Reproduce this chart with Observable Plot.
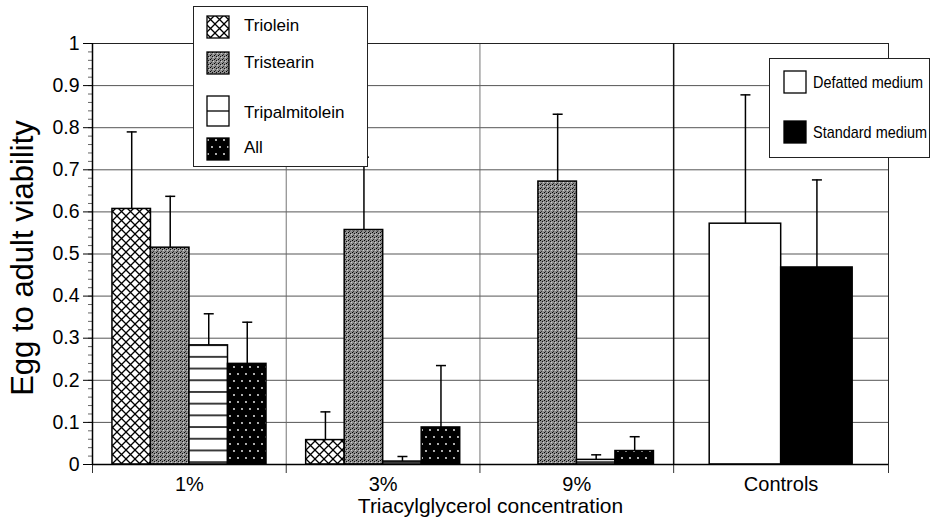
<!DOCTYPE html>
<html><head><meta charset="utf-8">
<script src="https://cdn.jsdelivr.net/npm/d3@7"></script>
<script src="https://cdn.jsdelivr.net/npm/@observablehq/plot@0.6"></script>
<style>
html,body{margin:0;padding:0;background:#fff;}
#wrap{position:relative;width:931px;height:523px;overflow:hidden;font-family:"Liberation Sans",Arial,sans-serif;}
#wrap svg.plot{position:absolute;left:0;top:0;}
.legend{position:absolute;background:#fff;border:1px solid #222;box-sizing:border-box;}
.item{position:absolute;white-space:nowrap;color:#000;}
.item svg{position:absolute;left:0;}
.item span{position:absolute;line-height:1;}
</style></head><body>
<svg width="0" height="0" style="position:absolute">
<defs>
<pattern id="p-triolein" patternUnits="userSpaceOnUse" width="9" height="9">
<rect width="9" height="9" fill="white"/>
<path d="M0,0L9,9M9,0L0,9" stroke="black" stroke-width="1.3" fill="none"/>
</pattern>
<pattern id="p-tristearin" patternUnits="userSpaceOnUse" width="4" height="4">
<rect width="4" height="4" fill="#8e8e8e"/>
<rect x="0" y="0" width="1" height="1" fill="#000"/>
<rect x="2" y="1" width="1" height="1" fill="#111"/>
<rect x="1" y="3" width="1" height="1" fill="#333"/>
<rect x="3" y="2" width="1" height="1" fill="#cfcfcf"/>
</pattern>
<pattern id="p-tripalm" patternUnits="userSpaceOnUse" width="10" height="11.7">
<rect width="10" height="11.7" fill="white"/>
<path d="M0,5.85H10" stroke="black" stroke-width="1.5"/>
</pattern>
<pattern id="p-all" patternUnits="userSpaceOnUse" width="8" height="14">
<rect width="8" height="14" fill="black"/>
<circle cx="2" cy="3" r="0.9" fill="white"/>
<circle cx="6" cy="10" r="0.9" fill="white"/>
</pattern>
</defs>
</svg>
<div id="wrap"></div>
<script>
// ---- data ----
const groups = ["1%", "3%", "9%", "Controls"];
const lipids = ["Triolein", "Tristearin", "Tripalmitolein", "All"];
const trioleinMean = [0.607, 0.058, 0.0];
const trioleinUpper = [0.790, 0.125, 0.0];
const tristearinMean = [0.515, 0.557, 0.672];
const tristearinUpper = [0.637, 0.730, 0.832];
const tripalmitoleinMean = [0.283, 0.007, 0.011];
const tripalmitoleinUpper = [0.358, 0.019, 0.023];
const allMean = [0.239, 0.088, 0.032];
const allUpper = [0.338, 0.235, 0.066];
const media = ["Defatted medium", "Standard medium"];
const controlMean = [0.572, 0.468];
const controlUpper = [0.878, 0.676];
const yTicks = [0, 0.1, 0.2, 0.3, 0.4, 0.5, 0.6, 0.7, 0.8, 0.9, 1];
const xTitle = "Triacylglycerol concentration";
const yTitle = "Egg to adult viability";

// ---- layout (group units) ----
const groupWidths = [1, 1, 1, 1.109];
const groupStarts = [0, 1, 2, 3];
const xEnd = 4.109;
const barPad = 0.103, barW = 0.1988;
const ctrlPad = 0.186, ctrlW = 0.369;

const lipidFills = ["url(#p-triolein)", "url(#p-tristearin)", "url(#p-tripalm)", "url(#p-all)"];
const mediaFills = ["white", "black"];
const means = [trioleinMean, tristearinMean, tripalmitoleinMean, allMean];
const uppers = [trioleinUpper, tristearinUpper, tripalmitoleinUpper, allUpper];

const rows = [];
for (let g = 0; g < 3; g++) {
  for (let j = 0; j < lipids.length; j++) {
    const x1 = groupStarts[g] + barPad + j * barW;
    rows.push({group: groups[g], series: lipids[j], value: means[j][g], upper: uppers[j][g],
      x1, x2: x1 + barW, xc: x1 + barW / 2, fill: lipidFills[j]});
  }
}
for (let j = 0; j < media.length; j++) {
  const x1 = groupStarts[3] + ctrlPad + j * ctrlW;
  rows.push({group: groups[3], series: media[j], value: controlMean[j], upper: controlUpper[j],
    x1, x2: x1 + ctrlW, xc: x1 + ctrlW / 2, fill: mediaFills[j]});
}
const errRows = rows.filter(d => d.upper > d.value);
const groupRows = groups.map((g, i) => ({label: g, x: groupStarts[i] + groupWidths[i] / 2}));
const boundaries = [0, 1, 2, 3, xEnd];
const minor = d3.range(0, 1.0001, 0.02);

const cap = {draw(ctx, size) { const w = Math.sqrt(size / Math.PI); ctx.moveTo(-w, 0); ctx.lineTo(w, 0); }};

const chart = Plot.plot({
  width: 931, height: 523,
  marginLeft: 92, marginRight: 43, marginTop: 43, marginBottom: 59,
  style: {fontFamily: "'Liberation Sans', Arial, sans-serif", background: "white", color: "black", overflow: "visible"},
  x: {domain: [0, xEnd], axis: null},
  y: {domain: [0, 1], axis: null},
  color: {type: "identity"},
  marks: [
    Plot.gridY(yTicks, {stroke: "#444", strokeOpacity: 0.9, strokeWidth: 1}),
    Plot.gridX([1, 2], {stroke: "#666", strokeOpacity: 0.9, strokeWidth: 1}),
    Plot.axisY(minor, {tickSize: 4, tickFormat: () => "", stroke: "#666", label: null}),
    Plot.axisY(yTicks, {tickSize: 9, tickPadding: 4, fontSize: 19.5, tickFormat: d => String(d), label: null}),
    Plot.axisX(boundaries, {tickSize: 9, tickFormat: () => "", label: null, stroke: "#333"}),
    Plot.text(groupRows, {x: "x", text: "label", frameAnchor: "bottom", dy: 26, fontSize: 20}),
    Plot.frame({stroke: "#222", strokeWidth: 1}),
    Plot.ruleX([3], {stroke: "#111", strokeWidth: 1.5}),
    Plot.rect(rows, {x1: "x1", x2: "x2", y1: 0, y2: "value", fill: "fill", stroke: "black", strokeWidth: 1.5}),
    Plot.ruleX(errRows, {x: "xc", y1: "value", y2: "upper", stroke: "black", strokeWidth: 1.5}),
    Plot.dot(errRows, {x: "xc", y: "upper", symbol: cap, r: 5, fill: "none", stroke: "black", strokeWidth: 1.5}),
    Plot.ruleY([0], {stroke: "black", strokeWidth: 1.5}),
    Plot.ruleX([0], {stroke: "black", strokeWidth: 1.5}),
    Plot.text([xTitle], {text: d => d, frameAnchor: "bottom", dy: 48, fontSize: 21}),
    Plot.text([yTitle], {text: d => d, frameAnchor: "left", textAnchor: "middle", dx: -69, dy: 4, rotate: -90, fontSize: 31})
  ]
});
chart.classList.add("plot");
const wrap = document.getElementById("wrap");
wrap.appendChild(chart);

// ---- legends ----
function swatch(fill, w, h, midLine) {
  const ns = "http://www.w3.org/2000/svg";
  const s = document.createElementNS(ns, "svg");
  s.setAttribute("width", w + 2); s.setAttribute("height", h + 2);
  const r = document.createElementNS(ns, "rect");
  r.setAttribute("x", 1); r.setAttribute("y", 1); r.setAttribute("width", w); r.setAttribute("height", h);
  r.setAttribute("fill", midLine ? "white" : fill); r.setAttribute("stroke", "black"); r.setAttribute("stroke-width", 1.3);
  s.appendChild(r);
  if (midLine) {
    const l = document.createElementNS(ns, "line");
    l.setAttribute("x1", 1); l.setAttribute("x2", w + 1); l.setAttribute("y1", 1 + h / 2); l.setAttribute("y2", 1 + h / 2);
    l.setAttribute("stroke", "black"); l.setAttribute("stroke-width", 1.3);
    s.appendChild(l);
  }
  return s;
}
const leg1 = document.createElement("div");
leg1.className = "legend";
Object.assign(leg1.style, {left: "193px", top: "6px", width: "175px", height: "161px"});
const l1Swatch = [[8, 22], [44, 22], [88, 30], [130, 22]];
const l1Text = [18, 55, 105, 140];
lipids.forEach((name, i) => {
  const it = document.createElement("div");
  it.className = "item";
  it.style.left = "12px"; it.style.top = l1Swatch[i][0] + "px";
  it.appendChild(swatch(lipidFills[i], 22, l1Swatch[i][1], i === 2));
  const sp = document.createElement("span");
  sp.textContent = name;
  sp.style.fontSize = "17px";
  sp.style.left = "38px";
  sp.style.top = (l1Text[i] - l1Swatch[i][0] - 8) + "px";
  it.appendChild(sp);
  leg1.appendChild(it);
});
wrap.appendChild(leg1);

const leg2 = document.createElement("div");
leg2.className = "legend";
Object.assign(leg2.style, {left: "769px", top: "58px", width: "161px", height: "100px"});
const l2Top = [11, 61];
media.forEach((name, i) => {
  const it = document.createElement("div");
  it.className = "item";
  it.style.left = "13px"; it.style.top = l2Top[i] + "px";
  it.appendChild(swatch(mediaFills[i], 22, 22, false));
  const sp = document.createElement("span");
  sp.textContent = name;
  sp.style.fontSize = "17px";
  sp.style.left = "30px";
  sp.style.top = "4px";
  sp.style.transform = "scaleX(0.85)";
  sp.style.transformOrigin = "0 50%";
  it.appendChild(sp);
  leg2.appendChild(it);
});
wrap.appendChild(leg2);
</script>
</body></html>
